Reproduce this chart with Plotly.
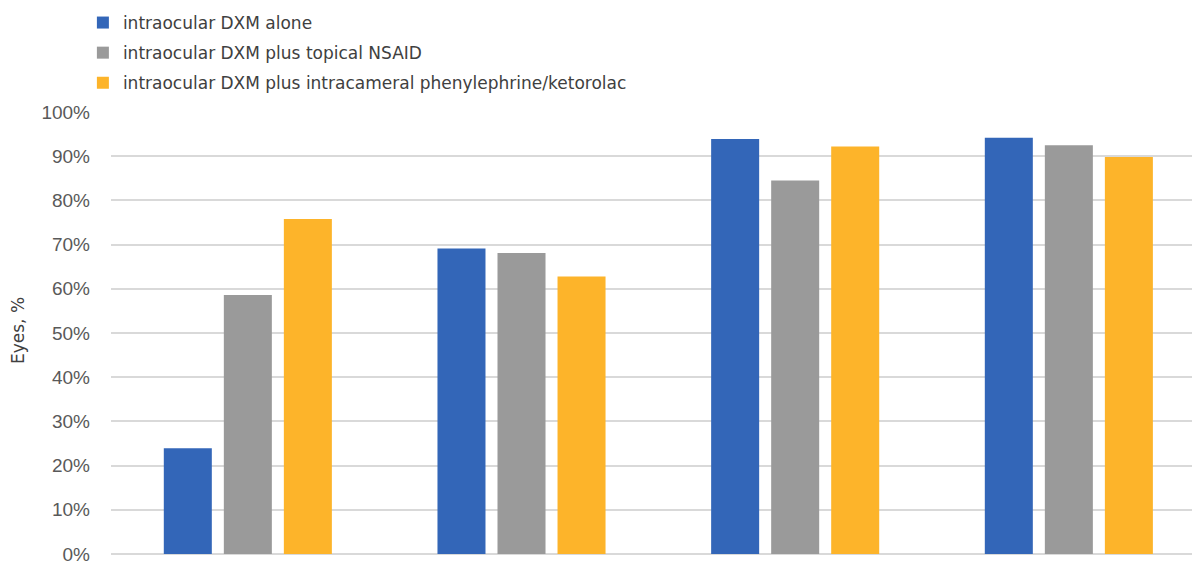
import plotly.graph_objects as go

categories = ["Group 1", "Group 2", "Group 3", "Group 4"]
series_names = [
    "intraocular DXM alone",
    "intraocular DXM plus topical NSAID",
    "intraocular DXM plus intracameral phenylephrine/ketorolac",
]
dxm_alone = [23.9, 69.1, 93.9, 94.2]
dxm_nsaid = [58.6, 68.1, 84.5, 92.5]
dxm_phenyl = [75.8, 62.8, 92.2, 89.8]
colors = ["#3366B8", "#9A9A9A", "#FDB42A"]
tick_vals = [0, 10, 20, 30, 40, 50, 60, 70, 80, 90, 100]
tick_text = [f"{v}%" for v in tick_vals]
y_title = "Eyes, %"

TOP, BOTTOM = 112, 554
PH = BOTTOM - TOP

fig = go.Figure()
for i, (name, vals) in enumerate(zip(series_names, [dxm_alone, dxm_nsaid, dxm_phenyl])):
    fig.add_trace(go.Bar(
        x=categories, y=vals, name=name, legendgroup=f"g{i}",
        marker=dict(color=colors[i], line=dict(color=colors[i], width=0)),
    ))

fig.update_layout(
    width=1192, height=565,
    paper_bgcolor="white", plot_bgcolor="white",
    margin=dict(l=111, r=0, t=TOP, b=565 - BOTTOM, autoexpand=False),
    barmode="group", bargap=0.342, bargroupgap=0.2,
    font=dict(family="Liberation Sans, Arial, sans-serif", color="#595959"),
    legend=dict(
        x=-0.026, y=(BOTTOM - 5) / PH, xanchor="left", yanchor="top",
        orientation="v", tracegroupgap=5,
        font=dict(family="DejaVu Sans, sans-serif", size=17, color="#404040"),
        bgcolor="rgba(0,0,0,0)",
    ),
    showlegend=True,
    annotations=[dict(
        text=y_title, textangle=-90, xref="paper", yref="paper",
        x=(18 - 111) / 1081, y=(BOTTOM - 331) / PH,
        xanchor="center", yanchor="middle", showarrow=False,
        font=dict(family="DejaVu Sans, sans-serif", size=17, color="#404040"),
    )],
)
fig.update_xaxes(
    range=[-0.5, 3.45], showticklabels=False, showgrid=False,
    showline=False, ticks="",
)
fig.update_yaxes(
    range=[0, 100], tickvals=tick_vals, ticktext=tick_text,
    showgrid=True, gridcolor="#D9D9D9", gridwidth=1.5,
    zeroline=True, zerolinecolor="#D9D9D9", zerolinewidth=1.5,
    tickfont=dict(size=19, color="#595959"), ticklabelstandoff=20,
    ticklabeloverflow="allow",
)

fig.write_html("out.html", config={"displayModeBar": False},
               post_script="document.body.style.margin='0px';")
